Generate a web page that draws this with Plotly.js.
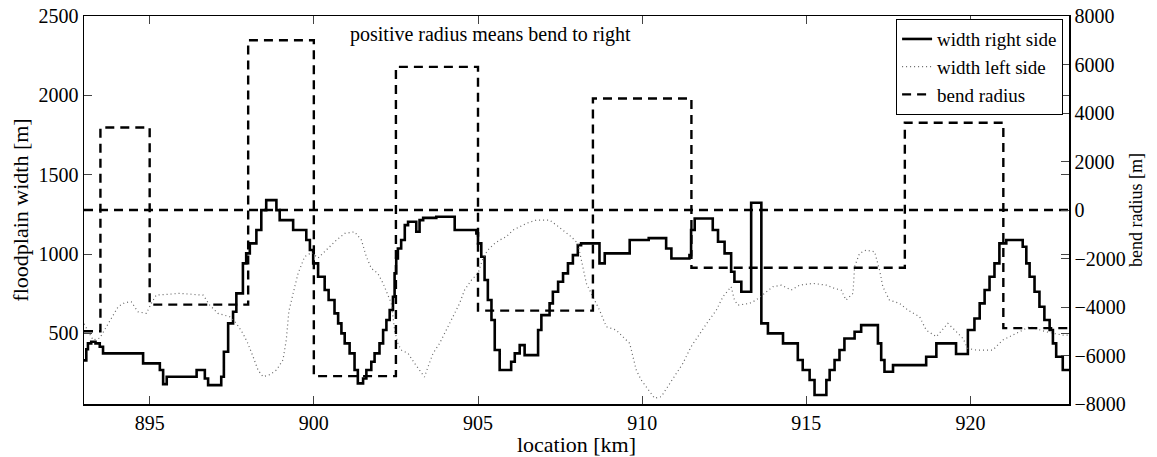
<!DOCTYPE html>
<html>
<head>
<meta charset="utf-8">
<script src="https://cdn.plot.ly/plotly-3.0.1.min.js"></script>
<style>
html,body{margin:0;padding:0;background:#fff;}
#chart{width:1157px;height:457px;}
</style>
</head>
<body>
<div id="chart"></div>
<script>
// location [km] and floodplain width on the right side [m] (stair steps)
const rightX = [893.00,893.07,893.12,893.22,893.35,893.48,893.58,894.80,895.31,895.41,895.52,896.43,896.68,896.78,897.18,897.26,897.39,897.54,897.64,897.84,897.94,898.05,898.25,898.40,898.55,898.86,898.96,899.37,899.77,899.88,899.98,900.13,900.33,900.45,900.63,900.74,900.84,900.94,901.09,901.24,901.34,901.50,901.60,901.75,901.85,902.00,902.11,902.21,902.31,902.41,902.46,902.51,902.56,902.66,902.77,902.87,903.12,903.22,903.33,903.73,904.29,904.95,905.00,905.10,905.20,905.30,905.41,905.51,905.66,906.01,906.12,906.27,906.42,906.83,906.93,907.18,907.28,907.44,907.59,907.74,907.89,908.04,908.14,908.70,908.86,909.62,910.20,910.73,910.89,911.44,911.49,911.60,912.15,912.31,912.51,912.71,912.81,913.02,913.32,913.63,913.83,914.29,914.74,914.89,915.10,915.25,915.61,915.71,915.86,916.01,916.16,916.47,916.67,917.18,917.28,917.38,917.64,918.65,918.96,919.56,919.92,920.12,920.28,920.43,920.58,920.73,920.88,921.09,921.59,921.70,921.80,921.95,922.10,922.25,922.41,922.51,922.61,922.81,923.00];
const rightW = [330,400,437,447,437,416,374,311,269,180,227,269,216,174,227,384,563,636,752,941,1004,1067,1151,1277,1340,1277,1214,1151,1088,1025,941,857,773,710,626,563,500,437,374,269,185,216,269,321,374,437,521,584,647,731,878,972,1035,1088,1182,1203,1140,1214,1228,1235,1151,1130,1067,983,836,710,584,395,269,321,374,426,363,521,615,689,762,825,878,941,993,1056,1067,941,1004,1088,1100,1035,972,993,1151,1224,1151,1077,1004,888,825,762,1323,563,500,437,332,269,206,112,206,269,332,395,468,510,552,437,332,258,300,353,437,370,521,594,689,773,857,941,1067,1088,1046,941,857,762,668,584,521,437,353,269,269];

// floodplain width on the left side [m]
const leftX = [893.00,893.28,893.48,893.63,893.83,894.04,894.24,894.44,894.64,894.90,895.05,895.20,895.91,896.63,896.83,897.08,897.44,897.64,897.84,897.99,898.15,898.30,898.45,898.66,898.86,899.06,899.16,899.24,899.37,899.52,899.72,899.93,900.13,900.38,900.69,900.94,901.24,901.45,901.60,901.75,901.95,902.11,902.26,902.36,902.46,902.56,902.66,902.87,903.07,903.22,903.37,903.48,903.63,903.83,904.04,904.24,904.44,904.59,904.80,905.00,905.15,905.30,905.51,905.66,905.86,906.07,906.27,906.47,906.78,907.18,907.39,907.59,907.84,908.04,908.30,908.50,908.70,908.91,909.21,909.41,909.62,909.72,909.82,909.97,910.18,910.38,910.58,910.78,910.99,911.24,911.49,911.75,912.00,912.26,912.46,912.71,912.81,912.92,913.27,913.47,913.73,913.98,914.24,914.54,914.79,915.20,915.61,915.86,916.06,916.21,916.42,916.47,916.62,916.82,917.08,917.23,917.33,917.53,917.84,918.09,918.45,918.65,918.96,919.31,919.52,919.77,919.92,920.17,920.68,920.98,921.39,921.80,922.30,922.81,923.00];
const leftW = [560,458,470,521,590,668,694,699,636,626,689,741,752,741,678,626,605,563,500,437,353,269,227,240,269,332,458,640,752,878,983,1010,975,1025,1088,1130,1140,1088,983,910,878,815,741,689,521,437,395,374,311,269,225,290,374,437,521,605,689,773,836,878,972,1025,1067,1088,1109,1151,1172,1193,1214,1214,1182,1151,1109,1067,815,731,647,542,521,479,437,353,269,206,143,91,101,164,227,311,416,500,573,647,731,794,710,678,689,710,752,794,804,773,804,815,804,783,773,710,752,920,1004,1025,1014,899,794,710,689,647,605,521,479,563,521,468,405,395,395,458,500,542,510,489,489];

// bend radius [m] (positive = bend to right)
const bendX = [893.0,893.5,895.0,898.0,900.0,902.5,905.0,908.5,911.5,918.0,921.0,923.0];
const bendR = [-5000,3400,-3900,7000,-6850,5900,-4150,4600,-2380,3600,-4870,-4870];

// zero radius reference line
const zeroX = [893, 923];
const zeroR = [0, 0];

const xTicks = [895, 900, 905, 910, 915, 920];

const FONT = 'Liberation Serif';
const tickFont = {family: FONT, size: 20, color: '#000'};

const traces = [
  {x: rightX, y: rightW, name: 'width right side', mode: 'lines',
   line: {shape: 'hv', color: '#000', width: 2.6}, yaxis: 'y'},
  {x: leftX, y: leftW, name: 'width left side', mode: 'lines',
   line: {color: '#666', width: 1.2, dash: '1px,3px'}, yaxis: 'y'},
  {x: bendX, y: bendR, name: 'bend radius', mode: 'lines',
   line: {shape: 'hv', color: '#000', width: 2.4, dash: '9px,6px'}, yaxis: 'y2'},
  {x: zeroX, y: zeroR, name: 'zero', mode: 'lines', showlegend: false,
   line: {color: '#000', width: 2.4, dash: '9px,6px'}, yaxis: 'y2'}
];

const layout = {
  width: 1157, height: 457,
  margin: {l: 84, r: 88, t: 16, b: 53},
  paper_bgcolor: '#fff', plot_bgcolor: '#fff',
  font: {family: FONT, size: 20, color: '#000'},
  showlegend: true,
  legend: {x: 0.994, y: 0.992, xanchor: 'right', yanchor: 'top',
    bgcolor: '#fff', bordercolor: '#000', borderwidth: 1,
    font: {family: FONT, size: 19, color: '#000'},
    tracegroupgap: 0, itemwidth: 30},
  xaxis: {range: [893, 923], tickvals: xTicks, ticks: 'inside', ticklen: 8,
    showline: true, linecolor: '#000', linewidth: 1.5, mirror: 'ticks',
    showgrid: false, zeroline: false, tickfont: tickFont,
    title: {text: 'location [km]', font: {family: FONT, size: 22, color: '#000'}, standoff: 2}},
  yaxis: {range: [55, 2500], tick0: 0, dtick: 500, ticks: 'inside', ticklen: 8,
    showline: true, linecolor: '#000', linewidth: 1.5, mirror: 'ticks',
    showgrid: false, zeroline: false, tickfont: tickFont,
    title: {text: 'floodplain width [m]', font: {family: FONT, size: 22, color: '#000'}, standoff: 4}},
  yaxis2: {range: [-8000, 8000], dtick: 2000, overlaying: 'y', side: 'right',
    ticks: 'inside', ticklen: 8, showline: true, linecolor: '#000', linewidth: 1.5,
    showgrid: false, zeroline: false, tickfont: tickFont,
    title: {text: 'bend radius [m]', font: {family: FONT, size: 18, color: '#000'}, standoff: 4}},
  annotations: [{text: 'positive radius means bend to right', xref: 'paper', yref: 'paper',
    x: 0.413, y: 0.953, xanchor: 'center', yanchor: 'middle', showarrow: false,
    font: {family: FONT, size: 20, color: '#000'}}]
};

Plotly.newPlot('chart', traces, layout, {displayModeBar: false, staticPlot: true});
</script>
</body>
</html>
